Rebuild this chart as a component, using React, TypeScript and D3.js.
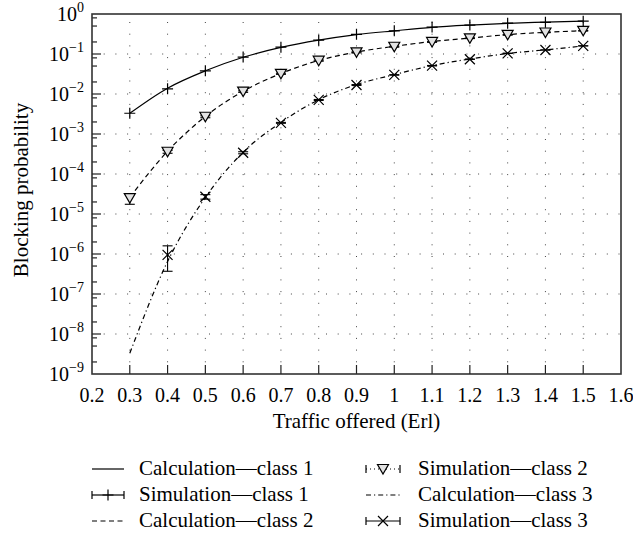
import React from 'react';
import * as d3 from 'd3';

// Traffic offered (Erl)
const trafficX = [0.3, 0.4, 0.5, 0.6, 0.7, 0.8, 0.9, 1.0, 1.1, 1.2, 1.3, 1.4, 1.5];
const sim3X = [0.4, 0.5, 0.6, 0.7, 0.8, 0.9, 1.0, 1.1, 1.2, 1.3, 1.4, 1.5];

// Calculation curves
const calc1 = [3.3e-3, 1.4e-2, 3.8e-2, 8.3e-2, 0.146, 0.222, 0.305, 0.38, 0.465, 0.53, 0.585, 0.625, 0.66];
const calc2 = [2.6e-5, 3.7e-4, 2.75e-3, 1.17e-2, 3.25e-2, 6.9e-2, 0.112, 0.156, 0.205, 0.25, 0.305, 0.348, 0.383];
const calc3 = [3.3e-9, 6.5e-7, 2.6e-5, 3.5e-4, 1.95e-3, 7.2e-3, 0.0172, 0.0305, 0.0515, 0.075, 0.103, 0.127, 0.159];

// Simulation points with confidence intervals
const sim1 = [3.3e-3, 1.35e-2, 3.8e-2, 8.4e-2, 0.148, 0.222, 0.31, 0.38, 0.47, 0.53, 0.59, 0.62, 0.66];
const sim2 = [2.5e-5, 3.6e-4, 2.7e-3, 1.15e-2, 3.2e-2, 6.8e-2, 0.11, 0.152, 0.2, 0.247, 0.3, 0.345, 0.38];
const sim2Lo = [1.75e-5, 3.3e-4, 2.55e-3, 1.1e-2, 3.1e-2, 6.6e-2, 0.107, 0.148, 0.196, 0.243, 0.296, 0.34, 0.375];
const sim2Hi = [3.15e-5, 3.9e-4, 2.85e-3, 1.2e-2, 3.3e-2, 7.0e-2, 0.113, 0.156, 0.204, 0.251, 0.304, 0.35, 0.385];
const sim3 = [9.5e-7, 2.7e-5, 3.4e-4, 1.9e-3, 7.1e-3, 0.0168, 0.03, 0.051, 0.074, 0.104, 0.126, 0.16];
const sim3Lo = [3.7e-7, 2.35e-5, 3.2e-4, 1.85e-3, 6.9e-3, 0.0164, 0.0295, 0.0503, 0.0732, 0.103, 0.125, 0.159];
const sim3Hi = [1.6e-6, 3.05e-5, 3.6e-4, 1.95e-3, 7.3e-3, 0.0172, 0.0305, 0.0517, 0.0748, 0.105, 0.127, 0.161];

const xTicks = [0.2, 0.3, 0.4, 0.5, 0.6, 0.7, 0.8, 0.9, 1, 1.1, 1.2, 1.3, 1.4, 1.5, 1.6];
const yExponents = [0, -1, -2, -3, -4, -5, -6, -7, -8, -9];
const minorMantissas = [2, 5, 8];

const legendLeft = ['Calculation—class 1', 'Simulation—class 1', 'Calculation—class 2'];
const legendRight = ['Simulation—class 2', 'Calculation—class 3', 'Simulation—class 3'];

const W = 633;
const H = 537;
const FONT = '"Liberation Serif", "Times New Roman", serif';

const plusPath = 'M-5.5,0H5.5M0,-5.5V5.5';
const triPath = 'M-5.5,-4.5L5.5,-4.5L0,5Z';
const crossPath = 'M-5,-5L5,5M-5,5L5,-5';

export default function App() {
  const x = d3.scaleLinear().domain([0.2, 1.6]).range([92, 621]);
  const y = d3.scaleLog().domain([1e-9, 1]).range([374, 14]);
  const [x0, x1] = x.range();
  const [y0, y1] = [y(1), y(1e-9)];

  const line = (xs: number[], ys: number[]) =>
    d3
      .line<number>()
      .x((_, i) => x(xs[i]))
      .y((d) => y(d))
      .curve(d3.curveMonotoneX)(ys) || '';

  const gridX = xTicks.slice(1, -1);
  const gridY = yExponents.slice(1, -1);

  // minor ticks at 2, 5 and 8 of every decade
  const minorTicks: number[] = [];
  yExponents.slice(1).forEach((e) => {
    minorMantissas.forEach((m) => minorTicks.push(m * Math.pow(10, e)));
  });

  const errBars = (xs: number[], lo: number[], hi: number[]) =>
    xs.map((xv, i) => (
      <g key={i}>
        <line x1={x(xv)} x2={x(xv)} y1={y(lo[i])} y2={y(hi[i])} />
        <line x1={x(xv) - 5} x2={x(xv) + 5} y1={y(lo[i])} y2={y(lo[i])} />
        <line x1={x(xv) - 5} x2={x(xv) + 5} y1={y(hi[i])} y2={y(hi[i])} />
      </g>
    ));

  const rowY = [475, 501, 527];
  const leftSample = [92, 124];
  const rightSample = [366, 400];

  const sampleCaps = (a: number, b: number, cy: number) => (
    <g>
      <line x1={a} x2={a} y1={cy - 4} y2={cy + 4} />
      <line x1={b} x2={b} y1={cy - 4} y2={cy + 4} />
      <line x1={a} x2={b} y1={cy} y2={cy} />
    </g>
  );

  return (
    <div style={{ position: 'absolute', left: 0, top: 0 }}>
      <svg width={W} height={H} style={{ display: 'block', background: '#fff' }} fontFamily={FONT}>
        {/* grid */}
        <g stroke="#444" strokeWidth={1} strokeDasharray="1,10.7">
          {gridX.map((t) => (
            <line key={'gx' + t} x1={x(t)} x2={x(t)} y1={y1} y2={y0} />
          ))}
          {gridY.map((e) => (
            <line key={'gy' + e} x1={x0} x2={x1} y1={y(Math.pow(10, e))} y2={y(Math.pow(10, e))} />
          ))}
        </g>

        {/* ticks */}
        <g stroke="#222" strokeWidth={1.2}>
          {gridX.map((t) => (
            <line key={'tx' + t} x1={x(t)} x2={x(t)} y1={y1} y2={y1 - 9} />
          ))}
          {gridY.map((e) => (
            <line key={'ty' + e} x1={x0} x2={x0 + 9} y1={y(Math.pow(10, e))} y2={y(Math.pow(10, e))} />
          ))}
          {minorTicks.map((v, i) => (
            <line key={'mt' + i} x1={x0} x2={x0 + 5} y1={y(v)} y2={y(v)} />
          ))}
        </g>

        {/* frame */}
        <rect x={x0} y={y0} width={x1 - x0} height={y1 - y0} fill="none" stroke="#333" strokeWidth={1.6} />

        {/* calculation curves */}
        <g fill="none" stroke="#000" strokeWidth={1.2}>
          <path d={line(trafficX, calc1)} />
          <path d={line(trafficX, calc2)} strokeDasharray="5,3.5" />
          <path d={line(trafficX, calc3)} strokeDasharray="5,3,1.2,3" />
        </g>

        {/* simulation error bars */}
        <g stroke="#000" strokeWidth={1.1}>
          {errBars(trafficX, sim2Lo, sim2Hi)}
          {errBars(sim3X, sim3Lo, sim3Hi)}
        </g>

        {/* simulation markers */}
        <g stroke="#000" strokeWidth={1.2} fill="none">
          {trafficX.map((xv, i) => (
            <path key={'s1' + i} d={plusPath} transform={`translate(${x(xv)},${y(sim1[i])})`} />
          ))}
          {trafficX.map((xv, i) => (
            <path key={'s2' + i} d={triPath} fill="#e2e2e2" transform={`translate(${x(xv)},${y(sim2[i])})`} />
          ))}
          {sim3X.map((xv, i) => (
            <path key={'s3' + i} d={crossPath} transform={`translate(${x(xv)},${y(sim3[i])})`} />
          ))}
        </g>

        {/* x tick labels */}
        <g fontSize={20} textAnchor="middle" fill="#000">
          {xTicks.map((t) => (
            <text key={'xl' + t} x={x(t)} y={402}>
              {d3.format('~g')(t)}
            </text>
          ))}
        </g>

        {/* y tick labels */}
        <g fontSize={20} textAnchor="end" fill="#000">
          {yExponents.map((e) => (
            <text key={'yl' + e} x={84} y={y(Math.pow(10, e)) + 7}>
              10
              <tspan fontSize={14} dy={-9}>
                {e === 0 ? '0' : '−' + Math.abs(e)}
              </tspan>
            </text>
          ))}
        </g>

        {/* axis titles */}
        <text x={(x0 + x1) / 2} y={428} fontSize={21} textAnchor="middle">
          Traffic offered (Erl)
        </text>
        <text transform={`translate(28,${(y0 + y1) / 2 - 4}) rotate(-90)`} fontSize={21} textAnchor="middle">
          Blocking probability
        </text>

        {/* legend */}
        <g fontSize={21} fill="#000">
          {legendLeft.map((t, i) => (
            <text key={'ll' + i} x={139} y={rowY[i]}>
              {t}
            </text>
          ))}
          {legendRight.map((t, i) => (
            <text key={'lr' + i} x={418} y={rowY[i]}>
              {t}
            </text>
          ))}
        </g>
        <g stroke="#000" strokeWidth={1.2} fill="none">
          <line x1={leftSample[0]} x2={leftSample[1]} y1={rowY[0] - 6} y2={rowY[0] - 6} />
          {sampleCaps(leftSample[0], leftSample[1], rowY[1] - 6)}
          <path d={plusPath} transform={`translate(${(leftSample[0] + leftSample[1]) / 2},${rowY[1] - 6})`} />
          <line x1={leftSample[0]} x2={leftSample[1]} y1={rowY[2] - 6} y2={rowY[2] - 6} strokeDasharray="5,3.5" />

          <line x1={rightSample[0]} x2={rightSample[0]} y1={rowY[0] - 10} y2={rowY[0] - 2} />
          <line x1={rightSample[1]} x2={rightSample[1]} y1={rowY[0] - 10} y2={rowY[0] - 2} />
          <line x1={rightSample[0]} x2={rightSample[1]} y1={rowY[0] - 6} y2={rowY[0] - 6} strokeDasharray="1,3" />
          <path d={triPath} fill="#e2e2e2" transform={`translate(${(rightSample[0] + rightSample[1]) / 2},${rowY[0] - 6})`} />
          <line x1={rightSample[0]} x2={rightSample[1]} y1={rowY[1] - 6} y2={rowY[1] - 6} strokeDasharray="5,3,1.2,3" />
          {sampleCaps(rightSample[0], rightSample[1], rowY[2] - 6)}
          <path d={crossPath} transform={`translate(${(rightSample[0] + rightSample[1]) / 2},${rowY[2] - 6})`} />
        </g>
      </svg>
    </div>
  );
}
